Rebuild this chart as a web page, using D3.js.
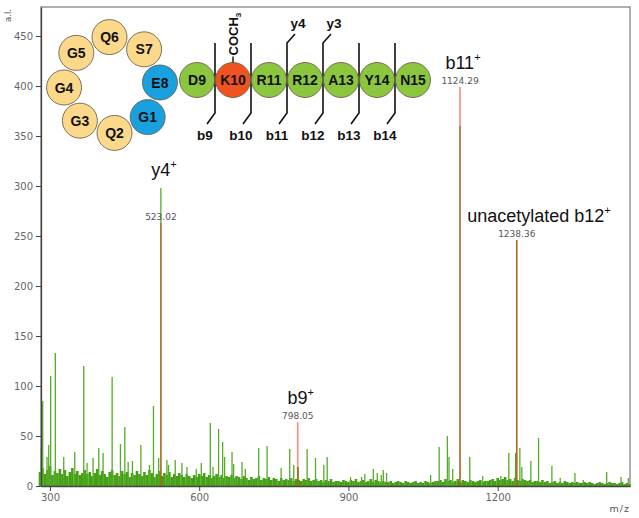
<!DOCTYPE html>
<html><head><meta charset="utf-8">
<script src="https://cdn.jsdelivr.net/npm/d3@7"></script>
<style>body{margin:0;background:#fff} svg{display:block}</style>
</head><body><svg id="c" width="639" height="518"></svg>
<script>
// ---------- data ----------
const xTicks = [300, 600, 900, 1200];
const yTicks = [0, 50, 100, 150, 200, 250, 300, 350, 400, 450];
const xLabel = "m/z";
const yLabel = "a.l.";

// baseline "grass" intensities, one every 5 m/z starting at 280
const grassStart = 280, grassStep = 5;
const grass = [
  14,18,12,16,20,11,15,13,17,12,16,10,14,18,12,15,11,13,16,12,
  14,10,13,17,11,15,12,9,14,16,11,13,10,15,12,14,9,13,11,15,
  12,10,14,11,16,13,9,12,15,10,13,11,14,9,12,10,13,11,9,12,
  10,8,11,9,12,10,13,9,11,8,10,12,9,11,8,10,9,11,8,10,
  9,7,10,8,6,9,7,8,10,6,8,7,9,6,8,7,5,8,6,7,
  6,8,5,7,6,5,7,6,8,5,6,7,5,6,4,6,5,7,4,5,
  5,4,6,5,4,6,5,7,4,5,6,4,5,7,4,6,5,4,5,4,
  4,5,3,4,5,4,3,5,4,3,4,5,3,4,3,5,4,3,4,5,
  5,6,4,7,5,6,4,5,7,4,6,5,4,6,5,4,5,6,4,5,
  5,6,7,5,8,6,7,9,6,7,5,8,6,5,7,6,5,6,4,5,
  5,4,6,4,5,3,4,5,3,4,3,5,4,3,4,3,4,3,3,4,
  3,4,3,2,3,4,3,2,3,4,3,3,2,3,4,2,3,2
];

// individual noise peaks (m/z and intensity)
const noiseMz = [282.6,285.4,294.1,297.5,301.5,310.8,327.7,349.9,368.0,374.6,386.7,398.2,406.8,425.0,441.7,450.5,457.2,465.8,
  482.8,500.0,508.1,518.5,535.1,538.3,551.8,565.3,575.4,594.1,604.2,622.3,627.7,639.0,647.1,651.1,666.0,669.2,686.1,692.8,
  719.6,736.5,764.7,782.0,790.1,798.9,817.0,833.8,850.5,857.3,904.2,926.4,933.0,950.0,958.0,966.0,970.1,976.7,
  1065.3,1082.4,1098.9,1102.2,1109.6,1143.9,1170.0,1206.3,1222.4,1236.0,1244.6,1248.6,1266.7,1282.2,1309.0,1325.7,
  1355.3,1372.0,1419.1,1447.9,1462.6];
const noiseInt = [37,85,29,41,110,133,29,34,120,23,28,38,33,109,42,59,24,25,
  41,21,80,28,26,21,26,23,19,17,23,63,19,57,44,29,34,22,24,17,
  38,40,18,37,21,19,37,28,21,29,9,9,12,17,13,11,16,13,
  11,39,50,29,17,29,10,10,33,33,38,19,25,48,20,8,
  13,6,14,9,8];

// annotated fragment peaks
const annotMz = [523.02, 798.05, 1124.29, 1238.36];
const annotName = ["y4", "b9", "b11", "unacetylated b12"];
const annotCharge = ["+", "+", "+", "+"];
const annotObserved = [298, 19, 360, 246];   // green spectrum height
const annotMatched = [263, 64, 399, 246];    // red matched-peak height

// peptide diagram
const ringResidues = ["E8", "G1", "Q2", "G3", "G4", "G5", "Q6", "S7"];
const ringKind = ["link", "link", "ring", "ring", "ring", "ring", "ring", "ring"];
const chainResidues = ["D9", "K10", "R11", "R12", "A13", "Y14", "N15"];
const chainKind = ["chain", "acetyl", "chain", "chain", "chain", "chain", "chain"];
const bIons = ["b9", "b10", "b11", "b12", "b13", "b14"];
const yIons = ["", "", "y4", "y3", "", ""];
const modification = "COCH";
const modSub = "3";

// ---------- drawing ----------
const svg = d3.select("#c");
const L = 41, R = 630, T = 7, B = 486;
const x = d3.scaleLinear().domain([282, 1466]).range([L, R]);
const y = d3.scaleLinear().domain([0, 479]).range([B, T]);

const green = "#45a016", greenPeak = "#56ab26", red = "#ea2a16";

// frame
svg.append("rect").attr("x", L).attr("y", T).attr("width", R - L).attr("height", B - T)
  .attr("fill", "none").attr("stroke", "#7a7a7a").attr("stroke-width", 1.2);

const plot = svg.append("g");
plot.selectAll("line.grass").data(grass).join("line").attr("class", "grass")
  .attr("x1", (d, i) => x(grassStart + i * grassStep)).attr("x2", (d, i) => x(grassStart + i * grassStep))
  .attr("y1", y(0)).attr("y2", d => y(d))
  .attr("stroke", green).attr("stroke-width", 2.6);
plot.selectAll("line.noise").data(noiseMz).join("line").attr("class", "noise")
  .attr("x1", d => x(d)).attr("x2", d => x(d))
  .attr("y1", y(0)).attr("y2", (d, i) => y(noiseInt[i]))
  .attr("stroke", greenPeak).attr("stroke-width", 1.3);
plot.selectAll("line.obs").data(annotMz).join("line").attr("class", "obs")
  .attr("x1", d => x(d)).attr("x2", d => x(d))
  .attr("y1", y(0)).attr("y2", (d, i) => y(annotObserved[i]))
  .attr("stroke", greenPeak).attr("stroke-width", 1.3);
plot.selectAll("line.match").data(annotMz).join("line").attr("class", "match")
  .attr("x1", d => x(d)).attr("x2", d => x(d))
  .attr("y1", y(0)).attr("y2", (d, i) => y(annotMatched[i]))
  .attr("stroke", red).attr("stroke-opacity", 0.5).attr("stroke-width", 1.7);

// peak labels
const lab = svg.append("g");
annotMz.forEach((m, i) => {
  const px = x(m);
  const numBase = y(annotMatched[i]) - 3;
  const bigBase = Math.min(numBase - 15, y(annotObserved[i]) - 12);
  lab.append("text").attr("x", px).attr("y", numBase).attr("text-anchor", "middle")
    .attr("font-family", "DejaVu Sans").attr("font-size", 9).attr("fill", "#555")
    .text(m.toFixed(2));
  const t = lab.append("text").attr("y", bigBase).attr("text-anchor", "middle")
    .attr("font-family", "Liberation Sans, Arial").attr("font-size", 18).attr("fill", "#111");
  t.append("tspan").text(annotName[i]);
  t.append("tspan").attr("font-size", 11).attr("dy", -8).text(annotCharge[i]);
  // long labels are nudged right so they clear the b11 peak
  const w = t.node().getComputedTextLength();
  const shift = w > 80 ? (w - 80) * 0.35 : 3;
  t.attr("x", px + shift);
});

// axes
const ax = svg.append("g").attr("transform", `translate(0,${B})`)
  .call(d3.axisBottom(x).tickValues(xTicks).tickFormat(d3.format("d")).tickSize(5).tickSizeOuter(0).tickPadding(3));
const ay = svg.append("g").attr("transform", `translate(${L},0)`)
  .call(d3.axisLeft(y).tickValues(yTicks).tickFormat(d3.format("d")).tickSize(5).tickSizeOuter(0).tickPadding(3));
[ax, ay].forEach(a => {
  a.select(".domain").attr("stroke", "#444").attr("stroke-width", 1.3);
  a.selectAll(".tick line").attr("stroke", "#444");
  a.selectAll(".tick text").attr("fill", "#666").attr("font-family", "DejaVu Sans").attr("font-size", 10);
});
svg.append("text").attr("x", R).attr("y", 512).attr("text-anchor", "end")
  .attr("font-family", "DejaVu Sans").attr("font-size", 9.5).attr("fill", "#555").attr("letter-spacing", 1)
  .text(xLabel);
svg.append("text").attr("transform", "translate(11,9) rotate(-90)").attr("text-anchor", "end")
  .attr("font-family", "DejaVu Sans").attr("font-size", 8.5).attr("fill", "#555").text(yLabel);

// ---------- peptide diagram ----------
const fillFor = d3.scaleOrdinal().domain(["ring", "link", "chain", "acetyl"])
  .range(["#fcd98a", "#18a0df", "#8cc63f", "#f0531f"]);
const pep = svg.append("g");
const ringAngle = d3.scaleLinear().domain([0, ringResidues.length]).range([-3, 357]);
const rcx = 112, rcy = 85, rr = 48, cr = 17.5;
const chainX = d3.scalePoint().domain(chainResidues).range([197, 413]);
const chainY = 80;

chainResidues.slice(0, -1).forEach((r, i) => {
  const sx = chainX(r) + chainX.step() / 2;
  const path = d3.path();
  path.moveTo(sx - 8, chainY + 44);
  path.lineTo(sx, chainY + 33);
  path.lineTo(sx, chainY - 37);
  if (yIons[i]) path.lineTo(sx + 8, chainY - 46);
  pep.append("path").attr("d", path.toString()).attr("fill", "none")
    .attr("stroke", "#111").attr("stroke-width", 1.6);
  pep.append("text").attr("x", sx - 10).attr("y", chainY + 60).attr("text-anchor", "middle")
    .attr("font-family", "Liberation Sans, Arial").attr("font-weight", "bold").attr("font-size", 13.5)
    .attr("fill", "#111").text(bIons[i]);
  if (yIons[i]) pep.append("text").attr("x", sx + 11).attr("y", chainY - 52).attr("text-anchor", "middle")
    .attr("font-family", "Liberation Sans, Arial").attr("font-weight", "bold").attr("font-size", 13.5)
    .attr("fill", "#111").text(yIons[i]);
});

function residue(cx, cy, name, kind) {
  pep.append("circle").attr("cx", cx).attr("cy", cy).attr("r", cr)
    .attr("fill", fillFor(kind)).attr("stroke", "#6a6450").attr("stroke-width", 0.9);
  pep.append("text").attr("x", cx).attr("y", cy).attr("dy", "0.36em").attr("text-anchor", "middle")
    .attr("font-family", "Liberation Sans, Arial").attr("font-weight", "bold").attr("font-size", 14)
    .attr("fill", "#111").text(name);
}
ringResidues.forEach((r, i) => {
  const a = ringAngle(i) * Math.PI / 180;
  residue(rcx + rr * Math.cos(a), rcy + rr * Math.sin(a), r, ringKind[i]);
});
chainResidues.forEach((r, i) => {
  residue(chainX(r), chainY, r, chainKind[i]);
});
const kx = chainX(chainResidues[chainKind.indexOf("acetyl")]);
pep.append("line").attr("x1", kx).attr("x2", kx).attr("y1", chainY - cr).attr("y2", chainY - cr - 6)
  .attr("stroke", "#111").attr("stroke-width", 1.4);
const mt = pep.append("text").attr("transform", `translate(${kx},${chainY - cr - 7}) rotate(-90)`)
  .attr("dy", "0.36em").attr("font-family", "Liberation Sans, Arial").attr("font-weight", "bold")
  .attr("font-size", 13).attr("fill", "#111");
mt.append("tspan").text(modification);
mt.append("tspan").attr("font-size", 8).attr("dy", 3).text(modSub);
</script></body></html>
